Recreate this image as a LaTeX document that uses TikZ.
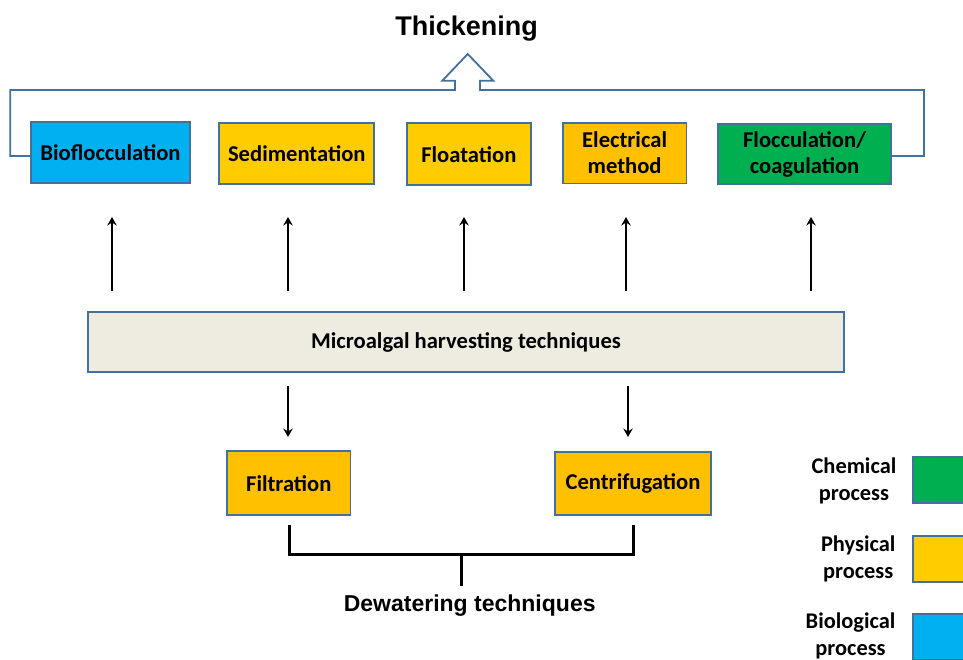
\documentclass[tikz,border=0pt]{standalone}
\usepackage{fontspec}
\newfontfamily\calib{Carlito}
\newfontfamily\arialf{Liberation Sans}
\usetikzlibrary{arrows.meta}

\definecolor{edgeblue}{HTML}{41719C}
\definecolor{bioblue}{HTML}{00B0F0}
\definecolor{physyellow}{HTML}{FFCC00}
\definecolor{physgold}{HTML}{FFC000}
\definecolor{chemgreen}{HTML}{00B050}
\definecolor{paleback}{HTML}{EEECE1}

\tikzset{
  procbox/.style={draw=edgeblue, line width=1.8pt, inner sep=0pt, align=center,
    font=\calib\bfseries\fontsize{22.6}{26}\selectfont},
  upflow/.style={line width=1.6pt, -{Stealth[length=8.5pt,width=9.5pt,inset=3pt]}},
  bracketline/.style={line width=3pt, line cap=butt, line join=miter},
  thickline/.style={draw=edgeblue, line width=1.8pt, line join=miter},
  legendtext/.style={anchor=east, inner sep=0pt, align=center,
    font=\calib\bfseries\fontsize{22.4}{27}\selectfont},
  legendbox/.style={draw=edgeblue, line width=1.8pt}
}

\begin{document}
\begin{tikzpicture}[x=1pt, y=-1pt]
\useasboundingbox (0,0) rectangle (963,659);

% thickening methods
\node[procbox, fill=bioblue, minimum width=159.6pt, minimum height=61.6pt] (bio) at (110.5,152.5) {Bioflocculation};
\node[procbox, fill=physyellow, minimum width=155pt, minimum height=61.3pt] (sed) at (296.8,153.3) {Sedimentation};
\node[procbox, fill=physyellow, minimum width=124.3pt, minimum height=61.7pt] (flo) at (468.8,154.2) {Floatation};
\node[procbox, fill=physgold, minimum width=123.8pt, minimum height=60.8pt] (ele) at (624.6,153.1) {Electrical\\method};
\node[procbox, fill=chemgreen, minimum width=172.4pt, minimum height=60pt] (flc) at (804.5,154) {Flocculation/\\coagulation};

% central box
\node[procbox, fill=paleback, minimum width=755.5pt, minimum height=60.5pt] (mic) at (466,342) {Microalgal harvesting techniques};

% dewatering methods
\node[procbox, fill=physgold, minimum width=123.5pt, minimum height=64pt] (fil) at (288.8,483.3) {Filtration};
\node[procbox, fill=physgold, minimum width=156pt, minimum height=63pt] (cen) at (633,483.8) {Centrifugation};

% group outline with hollow arrow towards the thickening label
\node[anchor=base, inner sep=0pt, font=\arialf\bfseries\fontsize{27}{30}\selectfont] (thk) at (466.7,35) {Thickening};
\coordinate (tl) at (10.3,156);
\coordinate (tr) at (924,156);
\draw[thickline] (bio.west |- tl) -- (tl) -- (10.3,90) -- (455,90) -- (455,80.7) -- (442.3,80.7)
  -- (467.7,54) -- (493.3,80.7) -- (480,80.7) -- (480,90) -- (924,90) -- (tr) -- (flc.east |- tr);

% upward arrows
\foreach \i/\x in {1/112, 2/288, 3/464, 4/626, 5/811} {
  \coordinate (us\i) at (\x,291);
  \coordinate (ue\i) at (\x,217);
  \draw[upflow] (us\i) -- (ue\i);
}

% downward arrows
\foreach \i/\x in {1/288, 2/628} {
  \coordinate (ds\i) at (\x,386);
  \coordinate (de\i) at (\x,437);
  \draw[upflow] (ds\i) -- (de\i);
}

% dewatering bracket
\coordinate (bl) at (289.6,525);
\coordinate (br) at (633,525);
\coordinate (bm) at (461,554.6);
\coordinate (bs) at (461,585.7);
\draw[bracketline] (bl) -- (289.6,554.6) -- (633,554.6) -- (br);
\draw[bracketline] (bm) -- (bs);
\node[anchor=base, inner sep=0pt, font=\arialf\bfseries\fontsize{23}{26}\selectfont] (dew) at (469.7,611.7) {Dewatering techniques};

% legend
\begin{scope}
\clip (0,0) rectangle (963,659);
\node[legendtext] (lch) at (896.5,481) {Chemical\\process};
\node[legendtext] (lph) at (895.5,559) {Physical\\process};
\node[legendtext] (lbi) at (895.5,636) {Biological\\process};
\draw[legendbox, fill=chemgreen] (913.3,457.3) rectangle (980,502.7);
\draw[legendbox, fill=physyellow] (913.3,536) rectangle (980,581.7);
\draw[legendbox, fill=bioblue] (913.3,614) rectangle (980,660);
\end{scope}
\end{tikzpicture}
\end{document}
